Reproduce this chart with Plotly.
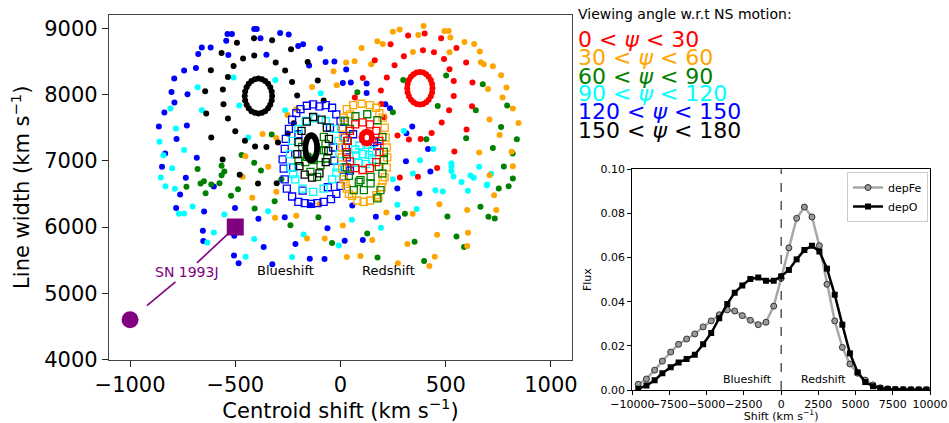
import plotly.graph_objects as go

# ---------------- main panel data (centroid shift, line width) ----------------
red_dots = [(400,8919),(478,8848),(392,8667),(444,8637),(551,8702),(492,8536),(597,8482),(518,8381),
            (538,8204),(627,8180),(538,7978),(516,7762),(625,7823),(481,7577),(599,7471),(433,7420),
            (381,7330),(541,7140),(459,6892),(368,6757),(321,8889),(238,8758),(163,8516),(301,8577),
            (257,8441),(220,8256),(106,8250),(192,8060),(68,7954),(194,7857),(208,7657),(271,7381),
            (282,6748),(325,7320)]
red_ring = [(437,8095),(435,8158),(429,8218),(419,8268),(407,8307),(393,8332),(377,8340),(361,8332),
            (347,8307),(335,8268),(325,8218),(319,8158),(317,8095),(319,8032),(325,7973),(335,7922),
            (347,7883),(361,7858),(377,7850),(393,7858),(407,7883),(419,7922),(429,7973),(435,8032)]
red_core = [(150,7350),(147,7395),(138,7428),(125,7440),(113,7428),(103,7395),(100,7350),(103,7305),
            (113,7272),(125,7260),(138,7272),(147,7305)]
red_squares = [(105,7580),(140,7550),(170,7450),(185,7300),(185,7130),(170,6980),(140,6890),(105,6860),
               (70,6890),(45,6990),(30,7130),(32,7300),(45,7450),(70,7550)]

orange_dots = [(-370,7405),(-452,7069),(-465,6757),(-419,6440),(-305,6531),(-311,6138),(-210,6168),
               (-100,6349),(-159,5828),(-75,5828),(11,6024),(151,5802),(218,6220),(30,5546),(95,5561),
               (343,6199),(318,5742),(273,5451),(470,6345),(602,6255),(740,6255),(730,6481),(459,5882),
               (606,5912),(602,5712),(448,5550),(422,5410),(395,9034),(370,8898),(494,8958),(514,8958),
               (522,8859),(589,8793),(635,8762),(518,8637),(662,8648),(667,8486),(681,8456),(724,8426),
               (763,8290),(701,8084),(789,8105),(770,7954),(819,7788),(708,7622),(846,7571),(756,7390),
               (659,7125),(813,7134),(819,6918),(708,6782),(249,8949),(281,8980),(175,8803),(201,8762),
               (100,8702),(146,8456),(67,8501),(27,8482),(-33,8351),(-135,8114),(-211,7778),(-252,7692),
               (-305,7345),(-343,6908),(344,8642),(-18,8140)]
orange_squares = [(60,7840),(100,7860),(140,7840),(170,7800),(30,7780),(15,7650),(10,7500),(200,7650),
                  (210,7500),(215,7350),(220,7200),(222,7050),(220,6900),(210,6750),(195,6600),(170,6480),
                  (140,6400),(110,6380),(80,6400),(55,6470),(30,6580),(15,6720),(8,6880),(5,7050),
                  (8,7200),(12,7350),(45,7700),(185,7720),(40,6500),(180,6450),(200,6700),(25,6650)]

green_dots = [(-470,7088),(-410,6968),(-378,6853),(-565,6923),(-552,6838),(-565,6782),(-679,6877),
              (-649,6692),(-665,6657),(-732,6606),(-614,6642),(-575,6662),(-487,6571),(-641,6511),
              (-520,6470),(-408,6280),(-313,6390),(-238,6028),(-105,6149),(-40,5757),(127,5903),
              (176,5541),(306,6199),(352,5777),(508,6159),(665,6304),(703,6153),(733,6129),(752,6582),
              (799,6616),(551,5858),(587,5697),(397,5485),(502,8286),(676,8154),(462,7827),(643,7762),
              (792,7833),(763,7511),(597,7340),(408,7325),(838,7325),(724,7194),(818,7110),(776,6913),
              (819,6732),(298,8220),(80,8034),(249,7732),(-327,7396),(-281,6722)]
green_squares = [(-159,7058),(-135,7034),(-103,7159),(-95,6933),(-143,6832),(-111,6757),(-182,7209),
                 (-167,6980),(-127,7008),(-63,7034),(-79,7159),(-79,7360),(-71,7250),(-200,7000),
                 (71,7672),(127,7702),(175,7611),(199,7360),(206,7134),(182,6908),(143,6757),(95,6707),
                 (40,6772),(63,6556),(87,6681),(111,6556),(143,6657),(175,6431),(190,6556),(199,6808),
                 (206,7009),(30,6900),(28,7100),(35,7300),(45,7480),(20,7600)]

cyan_dots = [(-508,8256),(-679,8109),(-808,7788),(-659,7762),(-481,7833),(-782,7486),(-860,7285),
             (-438,7351),(-743,7164),(-841,7084),(-800,6888),(-854,6748),(-832,6616),(-787,6576),
             (-703,6310),(-768,6199),(-743,6205),(-552,6190),(-602,5918),(-633,5767),(-410,5817),
             (-451,5550),(-344,6239),(-175,5888),(-8,5722),(54,6108),(192,5988),(270,6334),(362,6270),
             (-230,5546),(451,6556),(486,6536),(605,6546),(695,6631),(441,7179),(378,7009),(527,6963),
             (527,6918),(527,6847),(537,6763),(659,6908),(618,6778),(633,6742),(716,6802),(697,6642),
             (575,6681),(-310,8220),(-94,8019),(-263,7762),(301,7450),(344,6808),(249,6722)]
cyan_squares = [(-120,7640),(-70,7600),(-30,7480),(-10,7300),(-5,7100),(-15,6900),(-40,6720),(-80,6580),
                (-130,6530),(-180,6580),(-215,6720),(-235,6900),(-240,7100),(-230,7300),(-200,7480),
                (-165,7600),(-225,6800),(-20,6820),(90,7230),(130,7240),(150,7150),(150,7020),(120,6950),
                (85,6970),(75,7080),(70,7170),(105,7100),(135,7090)]

blue_dots = [(-410,8990),(-398,8990),(-380,8848),(-516,8913),(-537,8913),(-543,8813),(-659,8708),
             (-617,8708),(-676,8612),(-533,8597),(-687,8400),(-743,8361),(-790,8240),(-803,8039),
             (-727,8004),(-789,7879),(-837,7728),(-863,7517),(-730,7532),(-779,7330),(-833,7109),
             (-683,7044),(-848,6908),(-735,6742),(-602,6612),(-762,6491),(-781,6285),(-648,6235),
             (-501,6285),(-390,6123),(-654,5942),(-652,5787),(-505,5867),(-365,5697),(-506,5571),
             (-484,5451),(-265,6149),(-62,5983),(-214,5742),(20,5792),(106,5802),(168,6153),(273,6144),
             (56,6325),(-146,5520),(-76,5516),(-324,5436),(270,6582),(375,6506),(-287,8928),(-246,8904),
             (-201,8732),(-178,8758),(-97,8693),(-149,8437),(-71,8491),(-29,8497),(27,8376),(11,8174),
             (49,8180),(124,8165),(124,8023),(213,7853),(235,7793),(341,7517),(311,6993),(313,7416),
             (416,7179),(427,6838),(-143,6328),(-352,8600)]
blue_squares = [(-190,7780),(-160,7830),(-130,7850),(-100,7820),(-70,7840),(-40,7800),(-20,7700),(0,7600),
                (10,7480),(20,7350),(25,7200),(30,7050),(20,6900),(15,6760),(0,6620),(-20,6500),(-45,6420),
                (-80,6380),(-110,6360),(-140,6350),(-170,6360),(-200,6380),(-230,6460),(-255,6580),
                (-265,6720),(-270,6880),(-275,7020),(-265,7180),(-260,7330),(-245,7480),(-230,7620),
                (-210,7720),(-225,6900),(-215,7100),(-200,7400),(-50,7500),(-30,7000),(-60,6600),
                (-180,6550),(-35,7200),(160,7280),(175,7220),(60,7400),(45,6850)]

black_dots = [(-492,8783),(-411,8848),(-565,8627),(-410,8587),(-463,8542),(-508,8431),(-616,8366),
              (-535,8265),(-643,8049),(-559,8075),(-556,7853),(-638,7713),(-535,7637),(-500,7446),
              (-614,7351),(-454,7300),(-406,7215),(-560,7019),(-479,6787),(-392,6657),(-325,8818),
              (-235,8682),(-308,8482),(-156,8491),(-263,8361),(-230,8189),(-108,8210),(-206,7984),
              (-80,7909),(-222,7566),(-352,7209),(-297,7275),(-251,7411),(-303,6662)]
black_ring = [(-325,7977),(-327,8045),(-334,8109),(-344,8163),(-358,8205),(-373,8231),(-390,8240),
              (-407,8231),(-423,8205),(-436,8163),(-446,8109),(-453,8045),(-455,7977),(-453,7909),
              (-446,7846),(-436,7791),(-423,7749),(-407,7723),(-390,7714),(-373,7723),(-358,7749),
              (-344,7791),(-334,7846),(-327,7909)]
black_core = [(-111,7195),(-115,7290),(-125,7360),(-139,7385),(-153,7360),(-163,7290),(-167,7195),
              (-163,7100),(-153,7030),(-139,7005),(-125,7030),(-115,7100),(-112,7244),(-119,7329),
              (-132,7379),(-146,7379),(-159,7329),(-166,7244),(-166,7146),(-159,7061),(-146,7011),
              (-132,7011),(-119,7061),(-112,7146)]
black_squares = [(-130,7660),(-90,7620),(-65,7500),(-55,7330),(-58,7150),(-70,6980),(-100,6810),
                 (-135,6745),(-170,6790),(-195,6920),(-205,7100),(-200,7280),(-185,7450),(-160,7590)]

sn1993j_x = [-1000, -500]
sn1993j_y = [4600, 6000]

x_ticks_main = [-1000, -500, 0, 500, 1000]
y_ticks_main = [4000, 5000, 6000, 7000, 8000, 9000]

angle_labels = ["0 < <i>ψ</i> < 30", "30 < <i>ψ</i> < 60", "60 < <i>ψ</i> < 90",
                "90 < <i>ψ</i> < 120", "120 < <i>ψ</i> < 150", "150 < <i>ψ</i> < 180"]
angle_colors = ["#ff0000", "#ffa500", "#008000", "#00ffff", "#0000ff", "#000000"]

# ---------------- inset data ----------------
shift = [-9600,-9050,-8500,-7980,-7420,-6890,-6350,-5800,-5240,-4700,-4160,-3620,-3120,-2610,-2070,
         -1540,-1020,-500,0,520,1040,1560,2070,2570,3080,3600,4110,4620,5140,5650,6170,6660,7160,
         7670,8200,8720,9240,9760]
depFe = [0.0026,0.005,0.009,0.0131,0.0172,0.0207,0.0231,0.0254,0.0286,0.0313,0.0341,0.0363,0.0358,
         0.0337,0.0316,0.0296,0.0307,0.038,0.0506,0.0644,0.0778,0.0829,0.0784,0.0654,0.0479,0.0313,
         0.0193,0.0118,0.0076,0.0045,0.0023,0.001,0.0005,0.0003,0.0002,0.0001,0.0001,0.0001]
depO = [0.0006,0.002,0.0044,0.0076,0.0103,0.0125,0.014,0.016,0.0207,0.0258,0.0325,0.039,0.0441,0.0474,
        0.0503,0.051,0.0495,0.0495,0.0515,0.0544,0.0592,0.0634,0.0654,0.0628,0.055,0.0432,0.0296,
        0.0166,0.008,0.0036,0.0017,0.0008,0.0005,0.0003,0.0002,0.0002,0.0002,0.0002]
x_ticks_inset = [-10000, -7500, -5000, -2500, 0, 2500, 5000, 7500, 10000]
y_ticks_inset = [0.0, 0.02, 0.04, 0.06, 0.08, 0.10]

FONT = "DejaVu Sans"
W, H = 949, 423

fig = go.Figure()


def add_pts(pts, color, square=False, size=6):
    xs = [p[0] for p in pts]
    ys = [p[1] for p in pts]
    if square:
        marker = dict(symbol="square-open", size=size, color=color, line=dict(color=color, width=1.3))
    else:
        marker = dict(symbol="circle", size=size, color=color, line=dict(width=0))
    fig.add_trace(go.Scatter(x=xs, y=ys, mode="markers", marker=marker, showlegend=False,
                             hoverinfo="skip", xaxis="x", yaxis="y"))


# filled dots
add_pts(blue_dots, "#0000ff")
add_pts(cyan_dots, "#00ffff")
add_pts(green_dots, "#008000")
add_pts(orange_dots, "#ffa500")
add_pts(red_dots, "#ff0000")
add_pts(black_dots, "#000000")
add_pts(black_ring, "#000000")
add_pts(red_ring, "#ff0000")
# squares
add_pts(blue_squares, "#0000ff", square=True, size=7)
add_pts(cyan_squares, "#00ffff", square=True, size=7)
add_pts(orange_squares, "#ffa500", square=True, size=7)
add_pts(green_squares, "#008000", square=True, size=7)
add_pts(black_squares, "#000000", square=True, size=7)
add_pts(red_squares, "#ff0000", square=True, size=7)
add_pts(black_core, "#000000")
add_pts(red_core, "#ff0000")

# SN 1993J
fig.add_trace(go.Scatter(x=[sn1993j_x[0]], y=[sn1993j_y[0]], mode="markers",
                         marker=dict(symbol="circle", size=17, color="#800080"),
                         showlegend=False, hoverinfo="skip"))
fig.add_trace(go.Scatter(x=[sn1993j_x[1]], y=[sn1993j_y[1]], mode="markers",
                         marker=dict(symbol="square", size=17, color="#800080"),
                         showlegend=False, hoverinfo="skip"))

# inset lines
fig.add_trace(go.Scatter(x=shift, y=depFe, mode="lines+markers", name="depFe",
                         line=dict(color="#a8a8a8", width=2.5),
                         marker=dict(symbol="circle", size=6, color="#9a9a9a",
                                     line=dict(color="#333333", width=1)),
                         xaxis="x2", yaxis="y2"))
fig.add_trace(go.Scatter(x=shift, y=depO, mode="lines+markers", name="depO",
                         line=dict(color="#000000", width=2.5),
                         marker=dict(symbol="square", size=6, color="#000000"),
                         xaxis="x2", yaxis="y2"))

annotations = []
# SN 1993J label with two connector lines
text_x, text_y = -730, 5315
annotations.append(dict(x=sn1993j_x[1], y=sn1993j_y[1], ax=text_x, ay=text_y, xref="x", yref="y",
                        axref="x", ayref="y", text="SN 1993J", showarrow=True, arrowhead=0,
                        arrowwidth=1.6, arrowcolor="#800080", standoff=10,
                        font=dict(family=FONT, size=14, color="#800080")))
annotations.append(dict(x=sn1993j_x[0], y=sn1993j_y[0], ax=text_x, ay=text_y, xref="x", yref="y",
                        axref="x", ayref="y", text="SN 1993J", showarrow=True, arrowhead=0,
                        arrowwidth=1.6, arrowcolor="#800080", standoff=22,
                        font=dict(family=FONT, size=14, color="rgba(0,0,0,0)")))
annotations.append(dict(x=-262, y=5350, xref="x", yref="y", text="Blueshift", showarrow=False,
                        font=dict(family=FONT, size=13, color="black")))
annotations.append(dict(x=229, y=5350, xref="x", yref="y", text="Redshift", showarrow=False,
                        font=dict(family=FONT, size=13, color="black")))
# inset texts
annotations.append(dict(x=-2294, y=0.0048, xref="x2", yref="y2", text="Blueshift", showarrow=False,
                        font=dict(family=FONT, size=11, color="black")))
annotations.append(dict(x=2812, y=0.0048, xref="x2", yref="y2", text="Redshift", showarrow=False,
                        font=dict(family=FONT, size=11, color="black")))
# viewing angle legend
annotations.append(dict(x=576 / W, y=1 - 14 / H, xref="paper", yref="paper", xanchor="left",
                        yanchor="middle", text="Viewing angle w.r.t NS motion:", showarrow=False,
                        font=dict(family=FONT, size=14, color="black")))
row_centres = [37.7, 56, 74.3, 91.7, 109.5, 128]
for lab, col, yc in zip(angle_labels, angle_colors, row_centres):
    annotations.append(dict(x=576 / W, y=1 - (yc + 2) / H, xref="paper", yref="paper",
                            xanchor="left", yanchor="middle", text=lab, showarrow=False,
                            font=dict(family=FONT, size=22, color=col)))

main_dom_x = [109 / W, 572 / W]
main_dom_y = [1 - 359.5 / H, 1 - 15 / H]
ins_dom_x = [632.3 / W, 930 / W]
ins_dom_y = [1 - 390 / H, 1 - 169.3 / H]

axis_common = dict(showgrid=False, zeroline=False, showline=True, mirror=True, ticks="outside",
                   tickangle=0, color="black", automargin=False)

fig.update_layout(
    width=W, height=H,
    margin=dict(l=0, r=0, t=0, b=0, autoexpand=False),
    paper_bgcolor="white", plot_bgcolor="white",
    font=dict(family=FONT, color="black"),
    xaxis=dict(axis_common, domain=main_dom_x, range=[-1100, 1100], anchor="y",
               linecolor="#444444", linewidth=1.3, ticklen=6, tickwidth=1.2, tickcolor="#222222",
               tickvals=x_ticks_main, ticktext=[str(v).replace("-", "−") for v in x_ticks_main],
               tickfont=dict(family=FONT, size=21),
               title=dict(text="Centroid shift (km s<sup>−1</sup>)", font=dict(family=FONT, size=21),
                          standoff=4)),
    yaxis=dict(axis_common, domain=main_dom_y, range=[4000, 9200], anchor="x",
               linecolor="#444444", linewidth=1.3, ticklen=6, tickwidth=1.2, tickcolor="#222222",
               tickvals=y_ticks_main, ticktext=[str(v) for v in y_ticks_main],
               tickfont=dict(family=FONT, size=21),
               title=dict(text="Line width (km s<sup>−1</sup>)", font=dict(family=FONT, size=21),
                          standoff=8)),
    xaxis2=dict(axis_common, domain=ins_dom_x, range=[-10000, 10000], anchor="y2",
                linecolor="black", linewidth=1, ticklen=4, tickwidth=1, tickcolor="black",
                tickvals=x_ticks_inset, ticktext=[str(v).replace("-", "−") for v in x_ticks_inset],
                tickfont=dict(family=FONT, size=11),
                title=dict(text="Shift (km s<sup>−1</sup>)", font=dict(family=FONT, size=11),
                           standoff=2)),
    yaxis2=dict(axis_common, domain=ins_dom_y, range=[0, 0.1], anchor="x2",
                linecolor="black", linewidth=1, ticklen=4, tickwidth=1, tickcolor="black",
                tickvals=y_ticks_inset, ticktext=[f"{v:.2f}" for v in y_ticks_inset],
                tickfont=dict(family=FONT, size=11),
                title=dict(text="Flux", font=dict(family=FONT, size=11), standoff=6)),
    legend=dict(x=847 / W, y=1 - 172 / H, xanchor="left", yanchor="top",
                bgcolor="white", bordercolor="#cccccc", borderwidth=1,
                font=dict(family=FONT, size=11), itemwidth=30, tracegroupgap=0),
    annotations=annotations,
    shapes=[dict(type="line", xref="x2", yref="y2 domain", x0=0, x1=0, y0=0, y1=1,
                 line=dict(color="black", width=1, dash="dash"))],
)

fig.write_html("out.html", config={"displayModeBar": False},
               post_script="document.body.style.margin='0px';document.body.style.overflow='hidden';")
